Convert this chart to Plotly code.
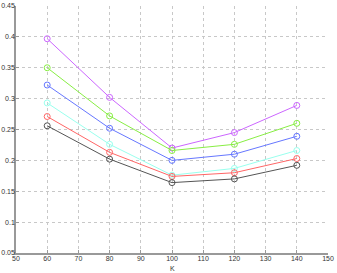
import plotly.graph_objects as go

K = [60, 80, 100, 120, 140]
purple = [0.397, 0.302, 0.220, 0.245, 0.289]
green = [0.350, 0.272, 0.216, 0.226, 0.260]
blue = [0.322, 0.252, 0.200, 0.210, 0.239]
cyan = [0.293, 0.226, 0.176, 0.187, 0.216]
red = [0.271, 0.213, 0.174, 0.180, 0.203]
black = [0.256, 0.202, 0.164, 0.170, 0.192]

series = [
    (purple, "#cc66ff"),
    (green, "#88ee44"),
    (blue, "#6677ff"),
    (cyan, "#99ffee"),
    (red, "#ff6666"),
    (black, "#555555"),
]

fig = go.Figure()
for vals, col in series:
    fig.add_trace(go.Scatter(
        x=K, y=vals, mode="lines+markers",
        line=dict(color=col, width=1),
        marker=dict(symbol="circle-open", size=6, color=col, line=dict(width=1, color=col)),
        showlegend=False,
    ))

axfont = dict(family="Liberation Sans", size=7, color="#333333")
fig.update_layout(
    width=337, height=273,
    margin=dict(l=16, r=9, t=6, b=20),
    plot_bgcolor="white", paper_bgcolor="white",
    xaxis=dict(range=[50, 150], dtick=10, tick0=50, showgrid=True, gridcolor="#c8c8c8",
               griddash="dot", gridwidth=1, showline=True, linecolor="#999999", linewidth=1.5,
               ticks="inside", ticklen=3, tickcolor="#999999", tickfont=axfont,
               zeroline=False, ticklabeloverflow="allow", automargin=False,
               ticklabelstandoff=-2),
    yaxis=dict(range=[0.05, 0.45], dtick=0.05, tick0=0.05, showgrid=True, gridcolor="#c8c8c8",
               griddash="dot", gridwidth=1, showline=True, linecolor="#999999", linewidth=1.5,
               ticks="inside", ticklen=3, tickcolor="#999999", tickfont=axfont,
               zeroline=False, ticklabelstandoff=-2, ticklabeloverflow="allow", automargin=False),
    annotations=[dict(text="K", x=0.5, xref="paper", y=-0.062, yref="paper",
                      yanchor="middle", showarrow=False, font=axfont)],
)
fig.write_html("out.html", config={"displayModeBar": False},
               post_script="document.body.style.margin='0';document.body.style.overflow='hidden';")
